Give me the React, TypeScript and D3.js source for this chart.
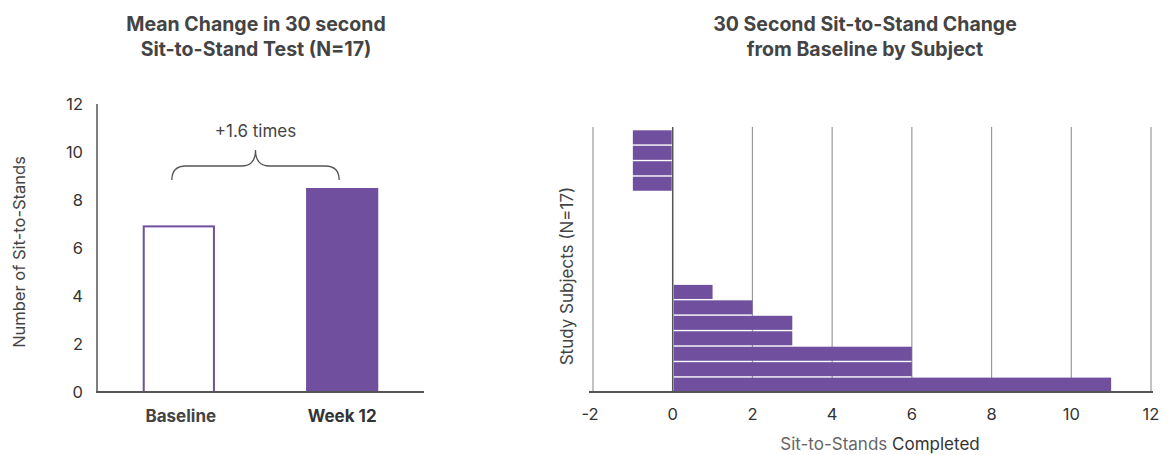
import React from "react";
import * as d3 from "d3";

const meanCategories = ["Baseline", "Week 12"];
const meanValues = [6.9, 8.5];
const meanTicks = [0, 2, 4, 6, 8, 10, 12];

const subjectIds = d3.range(1, 18).map((i) => `S${i}`);
const subjectChanges = [-1, -1, -1, -1, 0, 0, 0, 0, 0, 0, 1, 2, 3, 3, 6, 6, 11];
const changeTicks = [-2, 0, 2, 4, 6, 8, 10, 12];

const PURPLE = "#6f4f9e";
const FONT = "Inter, 'Noto Sans', sans-serif";

export default function App() {
  // Left chart
  const yL = d3.scaleLinear().domain([0, 12]).range([392, 104]);
  const xL = d3.scaleBand<string>().domain(meanCategories).range([97, 424]).paddingInner(0.558).paddingOuter(0.28);
  const cx0 = xL(meanCategories[0])! + xL.bandwidth() / 2;
  const cx1 = xL(meanCategories[1])! + xL.bandwidth() / 2;
  const bx0 = cx0 - 7;
  const bx1 = cx1 - 3;
  const mid = (bx0 + bx1) / 2;
  const by = 166;
  const bracePath = `M${bx0},180 Q${bx0},${by} ${bx0 + 14},${by} L${mid - 14},${by} Q${mid},${by} ${mid},150 Q${mid},${by} ${mid + 14},${by} L${bx1 - 14},${by} Q${bx1},${by} ${bx1},180`;

  // Right chart
  const xR = d3.scaleLinear().domain([-2, 12]).range([593, 1151]);
  const yR = d3.scaleBand<string>().domain(subjectIds).range([130, 392]).paddingInner(0.09).paddingOuter(0.02);

  return (
    <svg width={1170} height={455} style={{ position: "absolute", left: 0, top: 0, background: "#fff" }} fontFamily={FONT}>
      {/* Left title */}
      <text x={256} y={31} textAnchor="middle" fontSize={19.5} fontWeight={700} fill="#444">Mean Change in 30 second</text>
      <text x={256} y={56} textAnchor="middle" fontSize={19.5} fontWeight={700} fill="#444">Sit-to-Stand Test (N=17)</text>

      {/* Left y ticks */}
      {meanTicks.map((t) => (
        <text key={t} x={83} y={yL(t) + 6} textAnchor="end" fontSize={16.5} fill="#333">{t}</text>
      ))}
      <text transform={`translate(25,252) rotate(-90)`} textAnchor="middle" fontSize={16.5} fill="#444">Number of Sit-to-Stands</text>

      {/* bars */}
      <rect x={xL(meanCategories[0])! + 1} y={yL(meanValues[0])} width={xL.bandwidth() - 2} height={yL(0) - yL(meanValues[0])} fill="#fff" stroke={PURPLE} strokeWidth={2} />
      <rect x={xL(meanCategories[1])!} y={yL(meanValues[1])} width={xL.bandwidth()} height={yL(0) - yL(meanValues[1])} fill={PURPLE} />

      {/* axes */}
      <line x1={97} x2={97} y1={104} y2={393} stroke="#555" strokeWidth={1.5} />
      <line x1={96} x2={424} y1={392} y2={392} stroke="#555" strokeWidth={2} />

      {/* category labels */}
      <text x={cx0 + 2} y={422} textAnchor="middle" fontSize={17} fontWeight={700} fill="#444">{meanCategories[0]}</text>
      <text x={cx1} y={422} textAnchor="middle" fontSize={17} fontWeight={700} fill="#333">{meanCategories[1]}</text>

      {/* brace */}
      <path d={bracePath} fill="none" stroke="#555" strokeWidth={1.3} />
      <text x={mid} y={137} textAnchor="middle" fontSize={17} fill="#444">+1.6 times</text>

      {/* Right title */}
      <text x={865} y={31} textAnchor="middle" fontSize={19.5} fontWeight={700} fill="#444">30 Second Sit-to-Stand Change</text>
      <text x={865} y={56} textAnchor="middle" fontSize={19.5} fontWeight={700} fill="#444">from Baseline by Subject</text>

      {/* gridlines */}
      {changeTicks.map((t) => (
        <line key={t} x1={xR(t)} x2={xR(t)} y1={127} y2={392} stroke={t === 0 ? "#555" : "#999"} strokeWidth={t === 0 ? 1.5 : 1.2} />
      ))}

      {/* bars */}
      {subjectIds.map((s, i) => {
        const v = subjectChanges[i];
        if (v === 0) return null;
        const x0 = xR(Math.min(0, v));
        const x1 = xR(Math.max(0, v));
        return (
          <rect key={s} x={x0 + (v > 0 ? 1 : 0)} y={yR(s)} width={x1 - x0 - 1} height={yR.bandwidth()} fill={PURPLE} />
        );
      })}

      <line x1={589} x2={1153} y1={392} y2={392} stroke="#555" strokeWidth={2} />

      {changeTicks.map((t) => (
        <text key={t} x={xR(t) - (t < 0 ? 3 : 0)} y={420} textAnchor="middle" fontSize={16.5} fill="#333">{t}</text>
      ))}
      <text x={880} y={450} textAnchor="middle" fontSize={17}>
        <tspan fill="#666">Sit-to-Stands </tspan>
        <tspan fill="#333">Completed</tspan>
      </text>
      <text transform={`translate(573,276) rotate(-90)`} textAnchor="middle" fontSize={17} fill="#444">Study Subjects (N=17)</text>
    </svg>
  );
}
